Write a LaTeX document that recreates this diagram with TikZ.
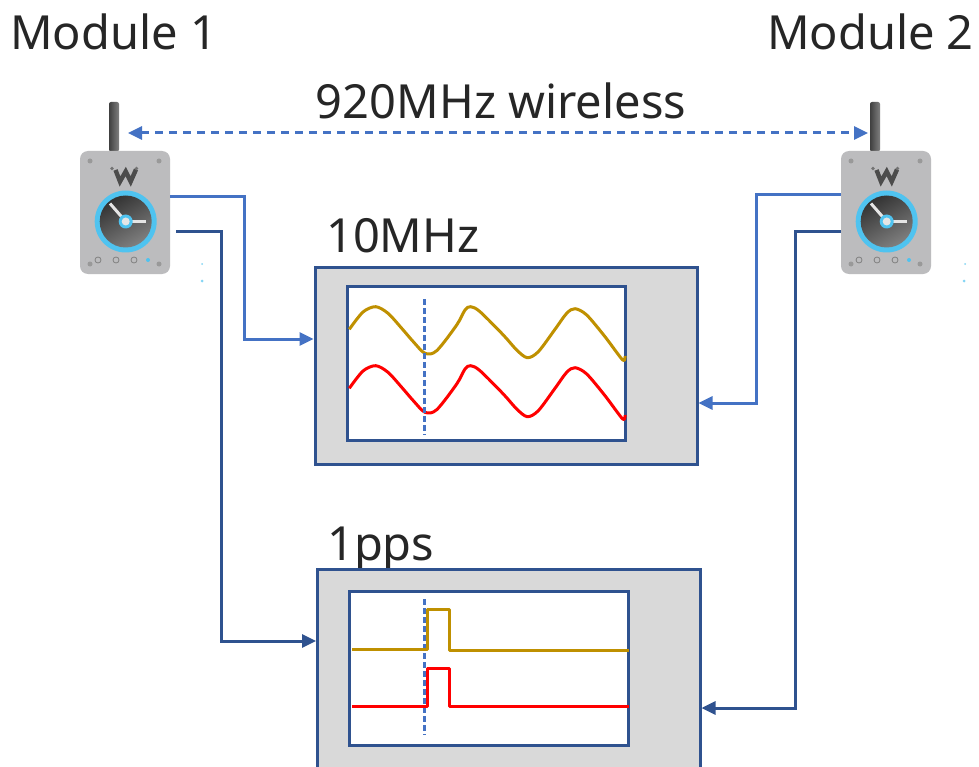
\documentclass[tikz,border=0pt]{standalone}
\usepackage{fontspec}
\setmainfont{Noto Sans}
\usetikzlibrary{arrows.meta}
\definecolor{lightblue}{HTML}{4472C4}
\definecolor{darkblue}{HTML}{2F528F}
\definecolor{panel}{HTML}{D9D9D9}
\definecolor{gold}{HTML}{BF9000}
\definecolor{devbody}{HTML}{BCBCBE}
\definecolor{ringblue}{HTML}{4FC3F0}
\tikzset{
  x=1pt,y=-1pt,
  link/.style={line width=3pt,-{Triangle[length=14pt,width=13pt]}},
  linklight/.style={link,draw=lightblue},
  linkdark/.style={link,draw=darkblue},
  radio/.style={draw=lightblue,line width=3pt,dash pattern=on 8pt off 6pt,{Triangle[length=14pt,width=13pt]}-{Triangle[length=14pt,width=13pt]}},
  outerbox/.style={draw=darkblue,line width=3pt,fill=panel,inner sep=0pt},
  innerbox/.style={draw=darkblue,line width=3pt,fill=white,inner sep=0pt},
  marker/.style={draw=lightblue,line width=2.6pt,dash pattern=on 6pt off 3pt},
  trace/.style={line width=3pt,line join=round},
  label/.style={inner sep=0pt,text=black!85,font=\fontsize{47pt}{47pt}\selectfont},
  speck/.style={fill=ringblue!70,draw=none},
  pics/device/.style={code={
    \shade[left color=black!75,right color=black!50,rounded corners=2pt] (-16,-110.5) rectangle (-6,-61);
    \node[fill=devbody,rounded corners=8pt,minimum width=90pt,minimum height=123pt,inner sep=0pt] (-body) at (0,0) {};
    \foreach \sx/\sy in {-35/-51.5,34/-51.5,-35/51.5,34/51.5}
      \fill[black!40] (\sx,\sy) circle (2.5);
    \draw[black!70,line width=4.4pt,line join=miter] (-9.5,-42.5) -- (-5,-31) -- (0.7,-41) -- (5.7,-31) -- (11,-43);
    \fill[black!55] (-13,-44) circle (1.8) (11.5,-44) circle (1.8);
    \fill[ringblue] (0.7,9) circle (31);
    \shade[left color=black!80,right color=black!50,shading angle=30] (0.7,9) circle (26);
    \draw[white!90!black,line width=3pt] (0.7,9) -- (-15,-9);
    \draw[white!90!black,line width=3pt] (0.7,9) -- (21,9);
    \fill[ringblue] (0.7,9) circle (7);
    \fill[white!90!black] (0.7,9) circle (4);
    \foreach \lx in {-27,-9,9}
      \draw[black!50,line width=0.8pt] (\lx,47.5) circle (3);
    \fill[ringblue] (23,47.5) circle (2);
  }},
}
\begin{document}
\begin{tikzpicture}
\clip[use as bounding box] (0,0) rectangle (979,767);
\fill[white] (0,0) rectangle (979,767);

\pic (m1) at (125,212.5) {device};
\pic (m2) at (886,212.5) {device};

\fill[speck] (202,264) circle (1) (202,281) circle (1.5) (965,264) circle (1) (964,281) circle (1.5);

\node[label,anchor=base west] (t1) at (10,49.5) {Module 1};
\node[label,anchor=base east] (t2) at (974,49.5) {Module 2};
\node[label,anchor=base] (t3) at (501,119) {920MHz wireless};
\node[label,anchor=base west] (t4) at (326,252) {10MHz};
\node[label,anchor=base west] (t5) at (327,560) {1pps};

\node[outerbox,minimum width=382pt,minimum height=197pt] (sA) at (506,365.5) {};
\node[innerbox,minimum width=278pt,minimum height=154pt] (iA) at (486,363) {};
\node[outerbox,minimum width=382.5pt,minimum height=260pt] (sB) at (508.75,699) {};
\node[innerbox,minimum width=279pt,minimum height=154pt] (iB) at (488.5,668) {};

% wireless link between antennas
\coordinate (ant1) at (128,133);
\coordinate (ant2) at (868,133);
\draw[radio] (ant1) -- (ant2);

% connectors
\coordinate (d1) at (176,232);
\draw[linklight] (m1-body.east |- 0,197) -- (244,197) |- (sA.west |- 0,339);
\draw[linkdark] (d1) -- (221,232) |- (sB.west |- 0,641);
\draw[linklight] (m2-body.west |- 0,195) -- (756,195) |- (sA.east |- 0,403);
\draw[linkdark] (m2-body.west |- 0,232) -- (795,232) |- (sB.east |- 0,708);

% 10 MHz traces
\newcommand{\wavepts}{(349.3,329.3) (363,312) (375.7,306.7) (388,313.3) (401.7,328.3) (413.3,341.7) (425,353.3) (436.7,350.7) (456.7,325) (465,310) (470.7,306.7) (480,311.7) (503.3,335) (516.7,350) (527.3,357.7) (538.3,351.7) (555,329.3) (566.7,313.3) (575,308.7) (586.7,315) (605,336.7) (622.7,360) (625,356)}
\draw[trace,draw=gold] plot[smooth,tension=0.5] coordinates {\wavepts};
\begin{scope}[yshift=-59pt]
\draw[trace,draw=red] plot[smooth,tension=0.5] coordinates {\wavepts};
\end{scope}
\coordinate (mA1) at (424.5,299);
\coordinate (mA2) at (424.5,435);
\draw[marker] (mA1) -- (mA2);

% 1 pps traces
\coordinate (mB1) at (424.5,599);
\coordinate (mB2) at (424.5,735);
\draw[marker] (mB1) -- (mB2);
\draw[trace,draw=gold] (352,649.3) -- (427.5,649.3) -- (427.5,609.3) -- (449,609.3) -- (449,650.3) -- (629,650.3);
\draw[trace,draw=red] (352,706) -- (427.5,706) -- (427.5,668) -- (449,668) -- (449,706.7) -- (629,706.7);
\end{tikzpicture}
\end{document}
